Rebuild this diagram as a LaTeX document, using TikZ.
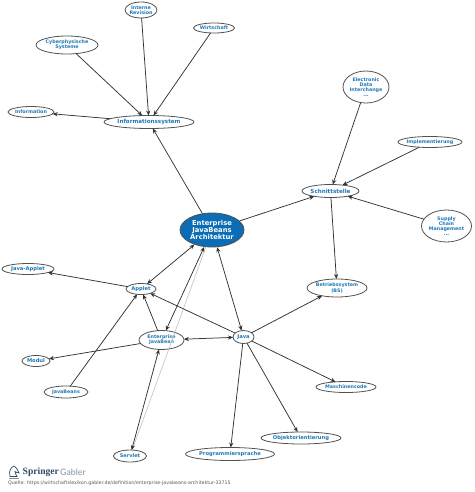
\documentclass[tikz,border=0pt]{standalone}
\usepackage{fontspec}
\setmainfont{DejaVu Sans}
\newfontfamily\serifx{Liberation Serif}
\newfontfamily\lightx{Lato}
\usetikzlibrary{shapes.geometric,arrows.meta}
\definecolor{lblue}{HTML}{1F78B8}
\definecolor{cblue}{HTML}{0A6DB5}
\definecolor{edgec}{HTML}{333333}
\definecolor{logoc}{HTML}{2F4A63}
\definecolor{logol}{HTML}{7F93A6}
\tikzset{
  ell/.style={ellipse,draw=edgec!85,line width=0.8pt,fill=white,inner sep=0pt,outer sep=0pt},
  lb/.style={font=\bfseries\fontsize{#1}{5.1}\selectfont,text=lblue,align=center,inner sep=0pt},
  conn/.style={draw=edgec,line width=0.75pt,-{Stealth[length=5pt,width=4.2pt]}},
  both/.style={conn,{Stealth[length=5pt,width=4.2pt]}-{Stealth[length=5pt,width=4.2pt]}},
  faint/.style={draw=black!25,line width=0.6pt},
}
% name, x, y, rx, ry, font size, text
\newcommand{\ndb}[7]{\node[ell,minimum width=#4*2pt,minimum height=#5*2pt] (#1) at (#2,#3) {}; \node[lb=#6] at (#1.center) {#7};}
\begin{document}
\begin{tikzpicture}[x=1pt,y=-1pt]
\useasboundingbox (0,0) rectangle (474,492);
% nodes
\ndb{rev}{141}{10}{16}{8}{4.8}{Interne\\Revision}
\ndb{wir}{214}{28}{20.5}{5}{4.8}{Wirtschaft}
\ndb{cyb}{67}{45}{31}{9}{4.8}{Cyberphysische\\Systeme}
\ndb{inf}{31}{112}{23}{5.5}{4.8}{Information}
\ndb{sys}{149}{122}{45}{6.5}{5.6}{Informationssystem}
\ndb{edi}{366}{87}{23}{16}{4.8}{Electronic\\Data\\Interchange\\...}
\ndb{imp}{430}{142}{32}{5.5}{4.8}{Implementierung}
\ndb{sch}{330.5}{191}{28.5}{6.5}{5.6}{Schnittstelle}
\ndb{sup}{446.5}{226}{25}{16}{4.8}{Supply\\Chain\\Management\\...}
\ndb{bet}{337}{288}{30}{9}{4.8}{Betriebssystem\\(BS)}
\ndb{jap}{28}{269}{26}{5.5}{5.2}{Java-Applet}
\ndb{app}{141}{289}{15}{5.5}{5.2}{Applet}
\ndb{ejb}{161.5}{340}{22.5}{9.5}{4.8}{Enterprise\\JavaBean}
\ndb{jav}{243.5}{337}{10.5}{6.5}{5.2}{Java}
\ndb{mod}{36}{361}{14}{5.5}{5.2}{Modul}
\ndb{jbn}{66}{392}{22}{6}{4.8}{JavaBeans}
\ndb{ser}{130}{456}{16.5}{6}{5}{Servlet}
\ndb{prg}{230}{454}{44.5}{6.5}{5.2}{Programmiersprache}
\ndb{obj}{301}{438}{40}{6}{5.2}{Objektorientierung}
\ndb{mas}{346}{387}{30}{5.5}{4.8}{Maschinencode}
\node[ellipse,draw=edgec!85,line width=0.8pt,fill=cblue,inner sep=0pt,minimum width=64pt,minimum height=34pt] (cen) at (212,230) {};
\node[font=\bfseries\fontsize{6.8}{7.4}\selectfont,text=white,align=center,inner sep=0pt] at (cen.center) {Enterprise\\JavaBeans\\Architektur};
% connectors
\draw[faint] (ser) -- (cen);
\draw[conn] (rev) -- (sys);
\draw[conn] (cyb) -- (sys);
\draw[conn] (wir) -- (sys);
\draw[conn] (sys) -- (inf);
\draw[conn] (cen) -- (sys);
\draw[conn] (cen) -- (sch);
\draw[conn] (edi) -- (sch);
\draw[conn] (imp) -- (sch);
\draw[conn] (sup) -- (sch);
\draw[conn] (sch) -- (bet);
\draw[conn] (jav) -- (bet);
\draw[both] (cen) -- (app);
\draw[both] (cen) -- (ejb);
\draw[both] (cen) -- (jav);
\draw[conn] (app) -- (jap);
\draw[conn] (ejb) -- (app);
\draw[conn] (jav) -- (app);
\draw[conn] (jbn) -- (app);
\draw[conn] (ejb) -- (mod);
\draw[both] (ejb) -- (jav);
\draw[both] (ser) -- (ejb);
\draw[conn] (jav) -- (mas);
\draw[conn] (jav) -- (prg);
\draw[conn] (jav) -- (obj);
% logo
\fill[logol] (8.5,478) rectangle (19,478.8);
\draw[logoc,line width=0.7pt,fill=white] (10,476.5) .. controls (8.5,471) and (11,467) .. (14,466) .. controls (16,467.5) and (18.5,470) .. (19,473) .. controls (17,473) and (16,472) .. (15,471.5) .. controls (15,473.5) and (16.5,475) .. (17,476.5) -- cycle;
\node[anchor=west,inner sep=0pt,font=\serifx\bfseries\fontsize{9.6}{9.6}\selectfont,text=logoc] (spr) at (22.5,472.5) {Springer};
\node[anchor=west,inner sep=0pt,font=\lightx\fontsize{8.8}{8.8}\selectfont,text=logol] (gab) at (60,472.5) {Gabler};
\node[anchor=west,inner sep=0pt,font=\fontsize{4.75}{5}\selectfont,text=black!65] (src) at (8,483.5) {Quelle: https://wirtschaftslexikon.gabler.de/definition/enterprise-javabeans-architektur-33715};
\end{tikzpicture}
\end{document}
